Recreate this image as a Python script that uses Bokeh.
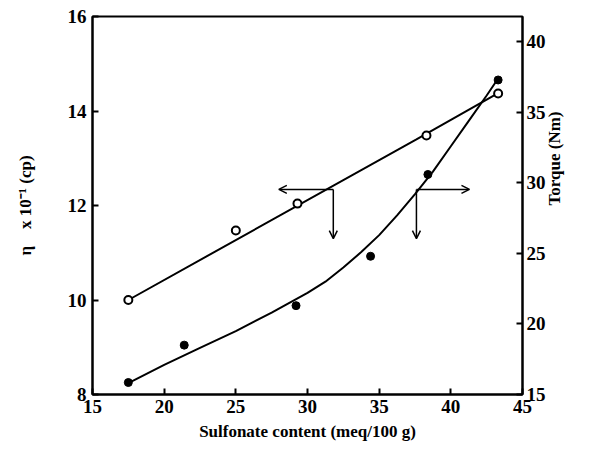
import math
from bokeh.plotting import figure
from bokeh.models import Range1d, LinearAxis, FixedTicker, Arrow, OpenHead
from bokeh.embed import file_html
from bokeh.resources import INLINE

# Data
sulf_visc = [17.5, 25.0, 29.3, 38.3, 43.3]
viscosity = [10.0, 11.47, 12.04, 13.48, 14.37]          # eta x 10^-1 (cp), left axis
sulf_torque = [17.5, 21.4, 29.2, 34.4, 38.4, 43.3]
torque = [15.85, 18.5, 21.3, 24.8, 30.6, 37.3]          # Nm, right axis

# Fitted curves as drawn
fit_visc_x = [17.5, 37.6, 43.3]
fit_visc_y = [10.0, 13.4, 14.38]
fit_torque_x = [17.5, 20, 22.5, 25, 27.5, 30, 31.25, 32.5, 33.75, 35, 36.25, 37.5, 38.75, 40, 41.25, 42.5, 43.3]
fit_torque_y = [15.8, 17.1, 18.3, 19.5, 20.8, 22.2, 23.0, 24.0, 25.1, 26.3, 27.7, 29.2, 30.8, 32.6, 34.4, 36.2, 37.4]

x_ticks = [15, 20, 25, 30, 35, 40, 45]
left_ticks = [8, 10, 12, 14, 16]
right_ticks = [15, 20, 25, 30, 35, 40]

FONT = "Liberation Serif"

p = figure(width=576, height=447, output_backend="svg", toolbar_location=None,
           x_range=Range1d(15, 45), y_range=Range1d(8, 16),
           min_border_left=92, min_border_right=54, min_border_top=16, min_border_bottom=53)
p.extra_y_ranges = {"torque": Range1d(15, 41.8)}
p.grid.visible = False
p.outline_line_color = "black"
p.outline_line_width = 2
p.background_fill_color = "white"

right = LinearAxis(y_range_name="torque")
p.add_layout(right, "right")

for ax in [p.xaxis[0], p.yaxis[0], right]:
    ax.axis_line_width = 2
    ax.axis_line_color = "black"
    ax.major_tick_in = 6
    ax.major_tick_out = 0
    ax.major_tick_line_width = 2
    ax.minor_tick_line_color = None
    ax.major_label_text_font = FONT
    ax.major_label_text_font_style = "bold"
    ax.major_label_text_font_size = "19px"
    ax.major_label_text_color = "black"
    ax.axis_label_text_font = FONT
    ax.axis_label_text_font_style = "bold"
    ax.axis_label_text_font_size = "17px"
    ax.axis_label_text_color = "black"

p.xaxis[0].ticker = FixedTicker(ticks=x_ticks)
p.yaxis[0].ticker = FixedTicker(ticks=left_ticks)
right.ticker = FixedTicker(ticks=right_ticks)

p.xaxis[0].axis_label = "Sulfonate content (meq/100 g)"
p.xaxis[0].axis_label_standoff = 6
p.yaxis[0].axis_label = "η\u00a0\u00a0\u00a0\u00a0x 10⁻¹ (cp)"
p.yaxis[0].axis_label_standoff = 30
right.axis_label = "Torque (Nm)"
right.axis_label_standoff = 6
if hasattr(right, "axis_label_orientation"):
    right.axis_label_orientation = math.pi / 2
p.xaxis[0].major_label_standoff = 5
p.yaxis[0].major_label_standoff = 6
right.major_label_standoff = 4

# Curves
p.line(fit_visc_x, fit_visc_y, line_color="black", line_width=2)
p.line(fit_torque_x, fit_torque_y, line_color="black", line_width=2, y_range_name="torque")

# Points
p.scatter(sulf_visc, viscosity, size=8, marker="circle", fill_color="white",
          line_color="black", line_width=2)
p.scatter(sulf_torque, torque, size=8, marker="circle", fill_color="black",
          line_color="black", y_range_name="torque")

# Indicator arrows (left-axis units)
def add_arrow(x0, y0, x1, y1):
    p.add_layout(Arrow(end=OpenHead(size=8, line_width=1.5, line_color="black"),
                       x_start=x0, y_start=y0, x_end=x1, y_end=y1,
                       line_width=1.5, line_color="black"))

add_arrow(31.8, 12.34, 28.0, 12.34)
add_arrow(31.8, 12.34, 31.8, 11.3)
add_arrow(37.6, 12.34, 41.3, 12.34)
add_arrow(37.6, 12.34, 37.6, 11.3)

open("out.html", "w").write(file_html(p, INLINE))
